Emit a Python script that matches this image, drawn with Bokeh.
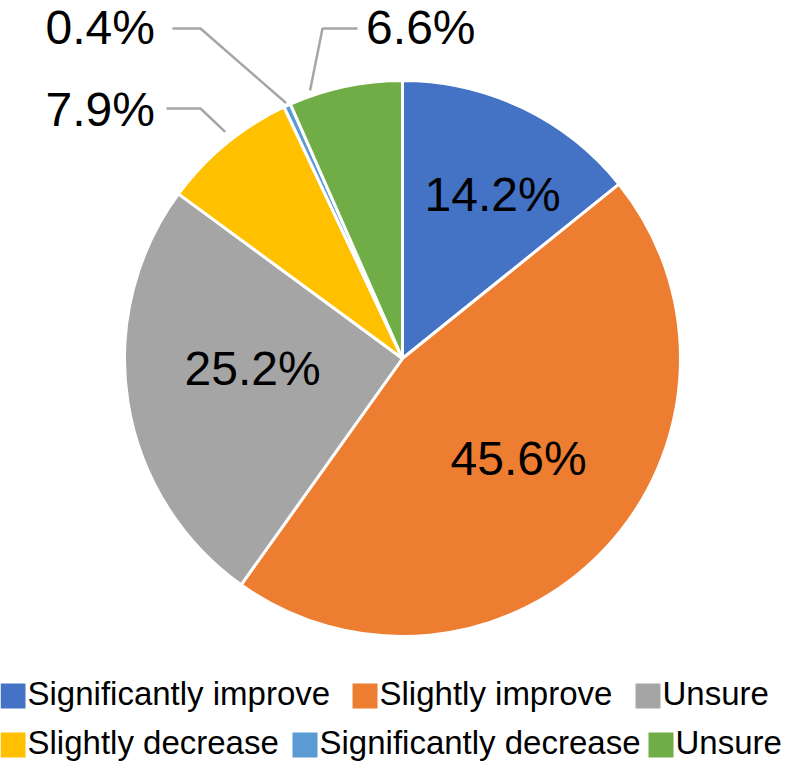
import math
from bokeh.plotting import figure
from bokeh.models import Range1d, ColumnDataSource
from bokeh.core.properties import value
from bokeh.embed import file_html
from bokeh.resources import INLINE

# ---- data ----
categories = ["Significantly improve", "Slightly improve", "Unsure",
              "Slightly decrease", "Significantly decrease", "Unsure"]
shares = [14.2, 45.6, 25.2, 7.9, 0.4, 6.6]
pct_labels = ["14.2%", "45.6%", "25.2%", "7.9%", "0.4%", "6.6%"]
colors = ["#4472C4", "#ED7D31", "#A5A5A5", "#FFC000", "#5B9BD5", "#70AD47"]

# ---- layout (pixel-space of the picture) ----
W, H = 784, 763
CX, CY, R = 402, 358, 278          # pie centre and radius
FONT = value("Liberation Sans")
BIG, SMALL = 48, 33
SHIFT = 0.39                       # baseline compensation (em)

p = figure(width=W, height=H, output_backend="svg", toolbar_location=None,
           x_range=Range1d(0, W), y_range=Range1d(-H, 0),
           min_border=0)
p.axis.visible = False
p.grid.visible = False
p.outline_line_color = None
p.background_fill_color = "white"
p.border_fill_color = "white"

total = sum(shares)
cum = [0.0]
for v in shares:
    cum.append(cum[-1] + v)
start = [math.pi / 2 - 2 * math.pi * cum[i] / total for i in range(len(shares))]
end = [math.pi / 2 - 2 * math.pi * cum[i + 1] / total for i in range(len(shares))]

src = ColumnDataSource(dict(start=start, end=end, color=colors))
p.wedge(x=CX, y=-CY, radius=R, start_angle="start", end_angle="end",
        direction="clock", fill_color="color", line_color="white",
        line_width=3, source=src)


def polar(frac_in_slice, i, rfac):
    a = 2 * math.pi * (cum[i] + frac_in_slice * shares[i]) / total  # clockwise from top
    return CX + rfac * R * math.sin(a), CY - rfac * R * math.cos(a)


def base_y(baseline_px, fs):
    return -(baseline_px - SHIFT * fs)


# inside labels: (slice index, radius factor, position within slice)
inside = [(0, 0.667, 0.5 + 3.5 / (360 * 14.2 / total)),
          (1, 0.556, 0.5 - 2.0 / (360 * 45.6 / total)),
          (2, 0.541, 0.5 + 4.5 / (360 * 25.2 / total))]
ix, iy, it = [], [], []
for i, rf, fr in inside:
    x, y = polar(fr, i, rf)
    ix.append(x)
    iy.append(base_y(y + 17, BIG))
    it.append(pct_labels[i])
p.text(x=ix, y=iy, text=it, text_font=FONT, text_font_size=f"{BIG}px",
       text_align="center", text_baseline="alphabetic", text_color="black")

# outside labels with leader lines
outside = [
    # idx, text x, baseline, leader start x, leader y, elbow x, frac, rfac, align
    (3, 45, 128, 166, 108, 200, 0.55, 1.035, "left"),
    (4, 45, 46, 172, 28, 200, 0.5, 1.01, "left"),
    (5, 475, 46, 357, 28, 322, 0.2, 1.02, "right"),
]
for i, tx, ty, lx0, ly, ex, fr, rf, al in outside:
    ax, ay = polar(fr, i, rf)
    p.line(x=[lx0, ex, ax], y=[-ly, -ly, -ay], line_color="#A6A6A6", line_width=2.5)
    p.text(x=[tx], y=[base_y(ty, BIG)], text=[pct_labels[i]], text_font=FONT,
           text_font_size=f"{BIG}px", text_align=al, text_baseline="alphabetic",
           text_color="black")

# legend (two rows)
leg_left = [0, 352, 635, 0, 292, 648]
leg_base = [706, 706, 706, 755, 755, 755]
SQ = 25
p.quad(left=leg_left, right=[l + SQ for l in leg_left],
       top=[-(b - 23) for b in leg_base], bottom=[-(b + 2) for b in leg_base],
       fill_color=colors, line_color=None)
p.text(x=[l + SQ + 2 for l in leg_left], y=[base_y(b, SMALL) for b in leg_base],
       text=categories, text_font=FONT, text_font_size=f"{SMALL}px",
       text_align="left", text_baseline="alphabetic", text_color="black")

open("out.html", "w").write(file_html(p, INLINE))
